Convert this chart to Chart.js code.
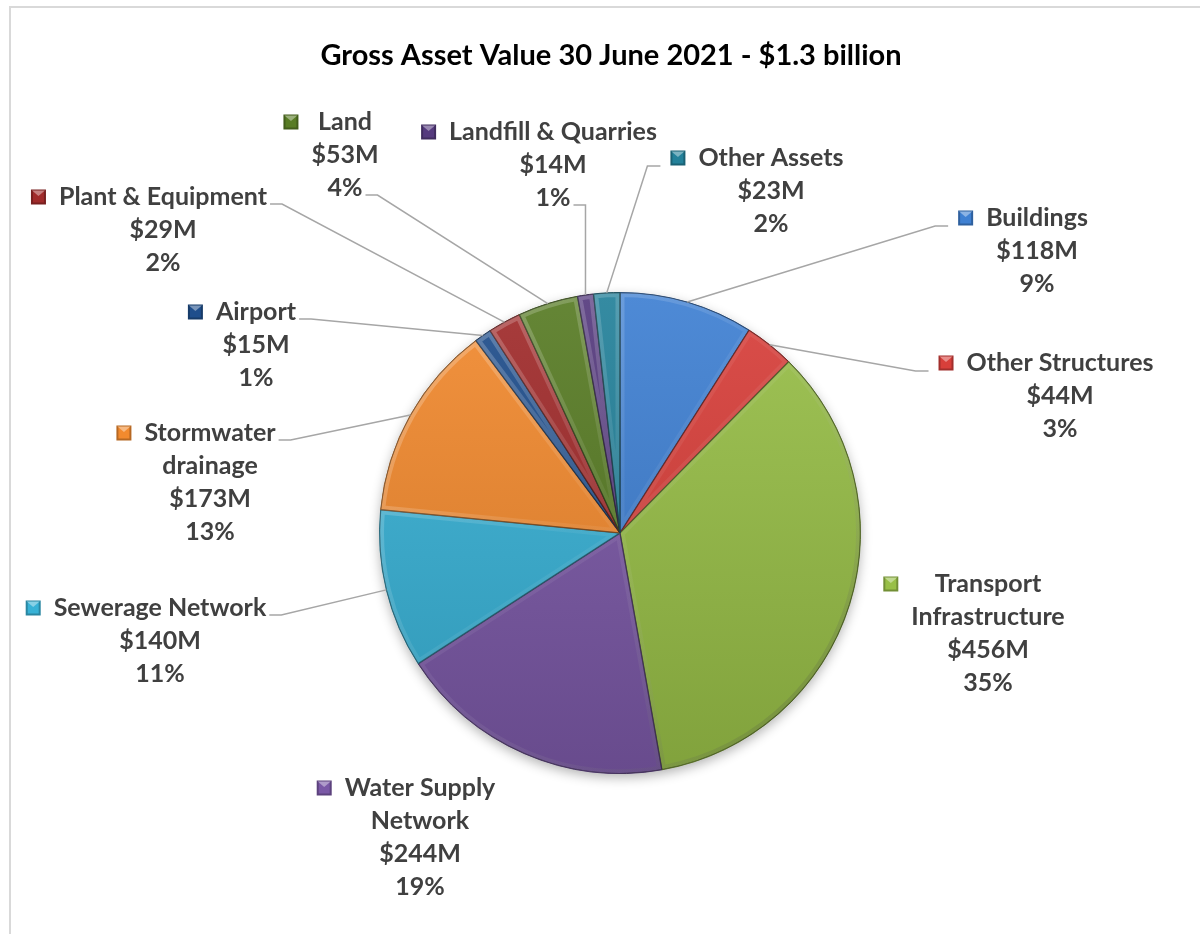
<!DOCTYPE html>
<html>
<head>
<meta charset="utf-8">
<title>Gross Asset Value 30 June 2021</title>
<script src="https://cdn.jsdelivr.net/npm/chart.js@4.4.1/dist/chart.umd.min.js"></script>
<style>
  html, body { margin: 0; padding: 0; background: #fff; }
  #wrap { position: relative; width: 1200px; height: 934px; }
</style>
</head>
<body>
<div id="wrap"><canvas id="chart" width="1200" height="934"></canvas></div>
<script>
'use strict';

// Asset classes, clockwise from 12 o'clock (one entry per text line)
const CATEGORIES = [
  ['Buildings'],
  ['Other Structures'],
  ['Transport', 'Infrastructure'],
  ['Water Supply', 'Network'],
  ['Sewerage Network'],
  ['Stormwater', 'drainage'],
  ['Airport'],
  ['Plant & Equipment'],
  ['Land'],
  ['Landfill & Quarries'],
  ['Other Assets']
];

// Gross asset value, $ millions
const VALUES = [118, 44, 456, 244, 140, 173, 15, 29, 53, 14, 23];

const TITLE = 'Gross Asset Value 30 June 2021 - $1.3 billion';

// ── Slice colours ─────
const COLORS = [
  '#3f80d2', // Buildings
  '#d83f3a', // Other Structures
  '#98bf47', // Transport
  '#7a58a6', // Water Supply
  '#38b2d6', // Sewerage
  '#f28a2e', // Stormwater
  '#1f4e8c', // Airport
  '#a02b2b', // Plant & Equipment
  '#587c24', // Land
  '#553a7e', // Landfill & Quarries
  '#23819a'  // Other Assets
];

// Where each data label sits: centre x, first line y, and which side the leader joins
const LABEL_POS = [
  { x: 1037, y: 218, join: 'left' },
  { x: 1060, y: 363, join: 'left' },
  { x: 988,  y: 584, join: null },
  { x: 420,  y: 788, join: null },
  { x: 160,  y: 608, join: 'right' },
  { x: 210,  y: 433, join: 'right' },
  { x: 256,  y: 312, join: 'right' },
  { x: 163,  y: 197, join: 'right' },
  { x: 345,  y: 122, join: 'right-last' },
  { x: 553,  y: 132, join: 'right-last' },
  { x: 771,  y: 158, join: 'left' }
];

const FONT_FAMILY = 'Lato, "Open Sans", "Liberation Sans", sans-serif';
const LABEL_SIZE = 25;
const TITLE_SIZE = 29;
const LINE_H = 33;
const TEXT_COLOR = '#404040';
const LEADER_COLOR = '#a6a6a6';

const TOTAL = VALUES.reduce((a, b) => a + b, 0);

// lighten (amt > 0) or darken (amt < 0) a hex colour
function shade(hex, amt) {
  const n = parseInt(hex.slice(1), 16);
  const r = (n >> 16) & 255, g = (n >> 8) & 255, b = n & 255;
  const f = (c) => amt >= 0 ? Math.round(c + (255 - c) * amt) : Math.round(c * (1 + amt));
  return `rgb(${f(r)},${f(g)},${f(b)})`;
}

function labelLines(i) {
  return [...CATEGORIES[i], '$' + VALUES[i] + 'M', Math.round(VALUES[i] / TOTAL * 100) + '%'];
}

function drawKey(ctx, x, y, color) {
  const s = 15;
  ctx.fillStyle = shade(color, -0.25);
  ctx.fillRect(x, y - s / 2, s, s);
  ctx.fillStyle = color;
  ctx.fillRect(x + 2, y - s / 2 + 2, s - 4, s - 4);
  // bevelled top face
  ctx.beginPath();
  ctx.moveTo(x + 1, y - s / 2 + 1);
  ctx.lineTo(x + s - 1, y - s / 2 + 1);
  ctx.lineTo(x + s / 2, y - 1);
  ctx.closePath();
  ctx.fillStyle = shade(color, 0.4);
  ctx.fill();
}

const pieDecor = {
  id: 'pieDecor',
  beforeDraw(chart) {
    const ctx = chart.ctx;
    ctx.save();
    ctx.fillStyle = '#fff';
    ctx.fillRect(0, 0, chart.width, chart.height);
    // chart frame
    ctx.strokeStyle = '#d9d9d9';
    ctx.lineWidth = 2;
    ctx.beginPath();
    ctx.moveTo(10, chart.height + 2);
    ctx.lineTo(10, 7);
    ctx.lineTo(chart.width + 2, 7);
    ctx.stroke();
    // title
    ctx.fillStyle = '#000';
    ctx.font = `bold ${TITLE_SIZE}px ${FONT_FAMILY}`;
    ctx.textAlign = 'center';
    ctx.textBaseline = 'middle';
    ctx.fillText(TITLE, 611, 56);
    ctx.restore();
  },
  beforeDatasetsDraw(chart) {
    // soft shadow under the whole pie
    const arc = chart.getDatasetMeta(0).data[0];
    if (!arc) return;
    const ctx = chart.ctx;
    ctx.save();
    ctx.shadowColor = 'rgba(0,0,0,0.3)';
    ctx.shadowBlur = 12;
    ctx.shadowOffsetY = 4;
    ctx.beginPath();
    ctx.arc(arc.x, arc.y, arc.outerRadius, 0, Math.PI * 2);
    ctx.fillStyle = '#888';
    ctx.fill();
    ctx.restore();
  },
  afterDatasetsDraw(chart) {
    const ctx = chart.ctx;
    const arcs = chart.getDatasetMeta(0).data;
    const area = chart.chartArea;

    // bevel along every slice edge: light on top, dark underneath
    arcs.forEach((arc) => {
      ctx.save();
      ctx.beginPath();
      ctx.moveTo(arc.x, arc.y);
      ctx.arc(arc.x, arc.y, arc.outerRadius, arc.startAngle, arc.endAngle);
      ctx.closePath();
      ctx.clip();
      const g = ctx.createLinearGradient(area.left, area.top, area.right, area.bottom);
      g.addColorStop(0, 'rgba(255,255,255,0.3)');
      g.addColorStop(0.45, 'rgba(255,255,255,0.06)');
      g.addColorStop(1, 'rgba(0,0,0,0.22)');
      ctx.strokeStyle = g;
      ctx.lineWidth = 9;
      ctx.lineJoin = 'round';
      ctx.stroke();
      ctx.strokeStyle = 'rgba(0,0,0,0.3)';
      ctx.lineWidth = 1.5;
      ctx.stroke();
      ctx.restore();
    });

    // data labels with leader lines
    ctx.save();
    ctx.font = `bold ${LABEL_SIZE}px ${FONT_FAMILY}`;
    ctx.textAlign = 'center';
    ctx.textBaseline = 'middle';
    arcs.forEach((arc, i) => {
      const pos = LABEL_POS[i];
      const lines = labelLines(i);
      const widths = lines.map((t) => ctx.measureText(t).width);
      const boxLeft = Math.min(...widths.map((w) => pos.x - w / 2));
      const keyX = boxLeft - 13 - 15;

      if (pos.join) {
        const mid = (arc.startAngle + arc.endAngle) / 2;
        const ax = arc.x + Math.cos(mid) * arc.outerRadius;
        const ay = arc.y + Math.sin(mid) * arc.outerRadius;
        let sx, sy, ex;
        if (pos.join === 'left') {
          sx = keyX - 10;
          sy = pos.y + 8;
          ex = sx - 13;
        } else {
          const li = pos.join === 'right-last' ? lines.length - 1 : 0;
          sx = pos.x + widths[li] / 2 + 3;
          sy = pos.y + li * LINE_H + 7;
          ex = sx + 12;
        }
        ctx.strokeStyle = LEADER_COLOR;
        ctx.lineWidth = 1.5;
        ctx.beginPath();
        ctx.moveTo(ax, ay);
        ctx.lineTo(ex, sy);
        ctx.lineTo(sx, sy);
        ctx.stroke();
      }

      drawKey(ctx, keyX, pos.y, COLORS[i]);
      ctx.fillStyle = TEXT_COLOR;
      lines.forEach((t, k) => ctx.fillText(t, pos.x, pos.y + k * LINE_H));
    });
    ctx.restore();
  }
};

new Chart(document.getElementById('chart'), {
  type: 'pie',
  data: {
    labels: CATEGORIES,
    datasets: [{
      data: VALUES,
      backgroundColor: (c) => {
        const base = COLORS[c.dataIndex];
        const area = c.chart.chartArea;
        if (!area) return base;
        const g = c.chart.ctx.createLinearGradient(0, area.top, 0, area.bottom);
        g.addColorStop(0, shade(base, 0.08));
        g.addColorStop(1, shade(base, -0.15));
        return g;
      },
      borderColor: COLORS.map((c) => shade(c, -0.35)),
      borderWidth: 1
    }]
  },
  options: {
    responsive: false,
    animation: false,
    layout: { padding: { left: 379, top: 292, right: 339, bottom: 160 } },
    plugins: {
      legend: { display: false },
      tooltip: { enabled: false },
      title: { display: false }
    }
  },
  plugins: [pieDecor]
});
</script>
</body>
</html>
